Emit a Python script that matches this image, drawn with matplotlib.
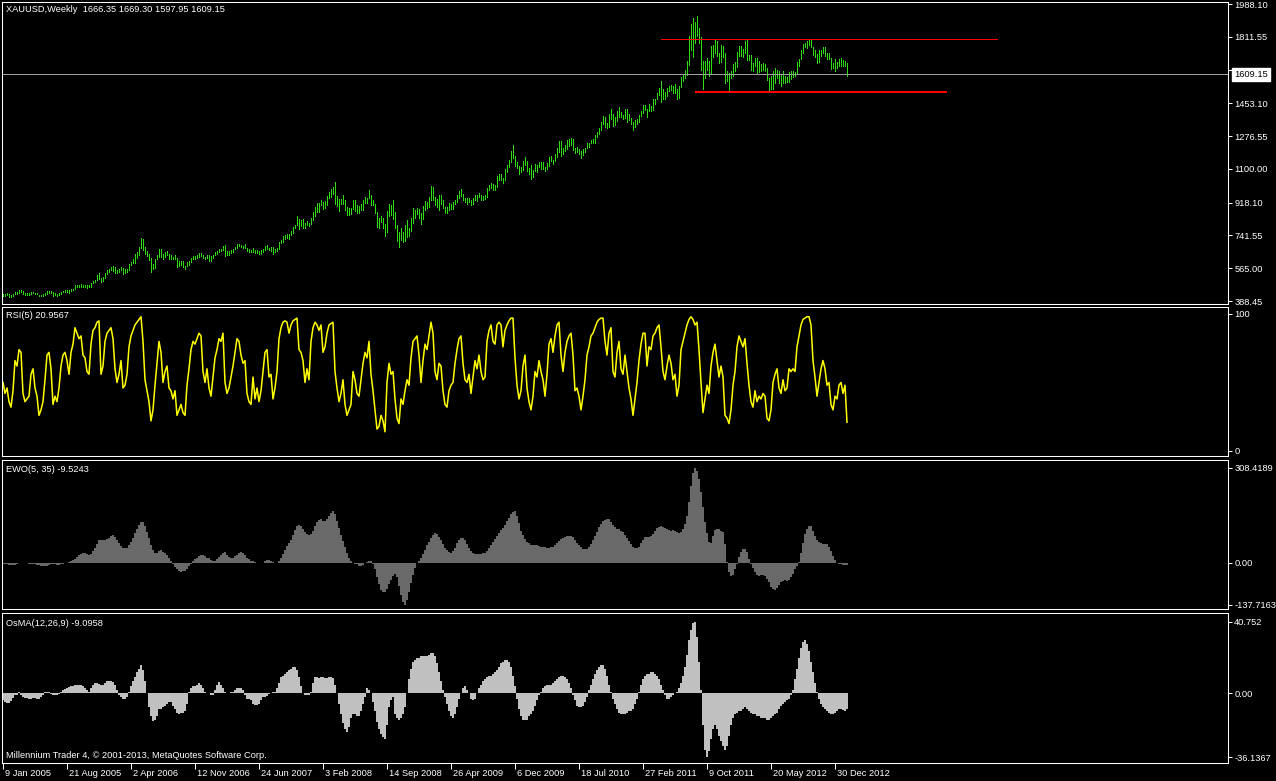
import numpy as np
import matplotlib
matplotlib.use("Agg")
import matplotlib.pyplot as plt
from matplotlib import transforms

plt.rcParams['font.family'] = ['Liberation Sans', 'DejaVu Sans']

# ---------------- data (weekly XAUUSD, 9 Jan 2005 .. 10 Feb 2013) ----------------
high = [
 428,428,430,428,423,428,438,437,446,447, 443,431,432,432,437,438,434,430,423,423,
 428,430,442,443,440,435,430,428,430,439, 444,447,446,447,451,455,472,472,476,479,
 474,476,474,473,488,496,500,526,541,513, 520,
 540,556,562,571,575,572,558,559,569,
 566,560,562,590,600,613,640,650,680,730, 725,680,660,643,618,590,616,634,671,669,
 642,650,656,643,637,628,637,619,605,606, 603,578,596,604,622,630,630,635,648,649,
 634,626,637,638,
 632,637,652,656,671,671,
 686,690,656,658,662,670,680,694,694,691, 684,693,676,670,665,675,661,665,658,662,
 668,685,692,676,680,677,667,676,704,718, 738,745,748,750,765,786,800,845,830,827,
 828,808,818,810,836,866,
 897,915,918,932,
 920,925,952,977,993,1002,1032,953,940,936, 958,930,893,891,892,935,930,908,900,912,
 935,947,945,988,962,930,913,868,836,845, 836,802,875,912,905,935,870,800,760,780,
 762,800,826,783,838,889,878,890,
 882,860,
 900,927,922,950,1007,1000,947,940,960,961, 935,897,896,915,912,920,934,960,980,990,
 967,945,945,945,930,942,958,958,970,960, 953,958,997,1011,1025,1020,1012,1062,1071,1070,
 1052,1101,1119,1147,1195,1227,1168,1138,1118,1112,
 1140,1162,1145,1105,1123,1096,1125,1122,1139,1139, 1135,1111,1130,1165,1170,1147,1180,1212,1250,1249,
 1215,1231,1254,1262,1265,1262,1213,1217,1206,1199, 1209,1213,1238,1240,1256,1260,1280,1301,1320,1350,
 1387,1379,1346,1398,1425,1397,1380,1410,1432,1406, 1392,1425,
 1425,1393,1375,1350,1364,1371,1392,1414,
 1445,1445,1424,1447,1441,1475,1476,1510,1537,1575, 1530,1512,1537,1549,1550,1545,1558,1530,1545,1595,
 1610,1632,1682,1815,1880,1912,1890,1923,1860,1810, 1680,1680,1695,1680,1760,1765,1802,1790,1725,1765,
 1764,1722,1625,1615,
 1625,1665,1675,1730,1764,1763,
 1745,1790,1792,1716,1715,1671,1697,1695,1680,1665, 1668,1667,1645,1590,1600,1629,1641,1633,1629,1604,
 1626,1601,1596,1624,1628,1627,1623,1675,1692,1740, 1775,1777,1787,1796,1793,1755,1740,1718,1738,1738,
 1754,1755,1724,1723,1697,1668,1694,
 1677,1694,1696,1685,1683,1669.30]
low = [
 418,418,419,411,411,415,425,428,430,439, 424,423,423,423,428,431,425,424,414,414,
 414,421,428,433,432,417,421,418,421,427, 435,437,437,432,443,448,453,466,464,466,
 464,466,461,463,466,486,491,499,509,490, 497,
 511,534,544,553,551,540,541,546,556,
 535,537,547,558,581,594,594,620,635,675, 665,640,630,611,542,560,568,612,627,625,
 612,628,635,615,617,612,615,573,575,585, 570,560,576,583,600,612,614,618,627,630,
 618,612,620,604,
 605,622,635,642,650,657,
 665,630,635,638,645,655,666,676,683,677, 672,674,659,653,652,655,645,649,642,644,
 653,664,666,662,660,642,654,660,670,700, 705,725,728,722,745,755,780,800,775,790,
 784,781,796,792,805,827,
 846,870,866,905,
 885,892,904,943,949,965,912,900,873,910, 912,878,852,852,858,882,875,862,860,877,
 876,915,915,945,905,903,860,788,782,816, 782,736,761,844,852,828,781,712,681,716,
 706,714,733,741,768,807,835,855,
 835,805,
 830,880,887,893,935,931,903,895,880,910, 890,865,862,877,883,883,910,920,943,955,
 932,919,910,923,906,912,935,926,948,935, 930,938,948,987,998,986,988,1000,1040,1040,
 1026,1041,1083,1110,1135,1160,1118,1105,1075,1085,
 1093,1120,1090,1074,1045,1058,1090,1085,1112,1098, 1100,1087,1100,1118,1143,1125,1140,1165,1193,1167,
 1180,1198,1206,1223,1227,1202,1188,1189,1178,1157, 1175,1190,1211,1217,1239,1241,1240,1270,1290,1310,
 1340,1325,1318,1326,1368,1330,1336,1356,1378,1379, 1370,1375,
 1355,1362,1340,1308,1328,1344,1354,1384,
 1403,1418,1380,1413,1411,1418,1452,1476,1498,1462, 1478,1478,1490,1520,1527,1510,1507,1478,1482,1540,
 1576,1590,1608,1660,1740,1702,1780,1815,1780,1630, 1533,1590,1630,1603,1618,1700,1722,1710,1668,1676,
 1704,1565,1575,1523,
 1590,1600,1626,1650,1706,1710,
 1705,1725,1688,1685,1635,1627,1652,1612,1624,1625, 1635,1629,1578,1527,1533,1532,1565,1589,1562,1548,
 1564,1562,1566,1566,1584,1596,1598,1612,1654,1690, 1725,1755,1750,1766,1759,1715,1701,1672,1675,1707,
 1722,1706,1691,1692,1636,1642,1625,
 1643,1655,1655,1652,1656,1597.95]

rsi = [
 50,42,46,36,32,44,66,62,74,72, 42,36,38,40,56,60,46,40,26,30,
 36,52,70,72,60,34,40,36,46,62, 70,72,66,56,72,78,90,86,82,84,
 70,68,58,56,78,88,90,94,95,56, 62,80,86,88,90,82,60,50,56,66,
 46,48,56,76,84,88,92,94,96,98, 80,52,44,36,22,30,48,64,80,72,
 50,58,62,46,44,38,44,26,30,34, 28,26,48,60,74,80,78,82,86,84,
 58,50,60,46,40,54,68,74,82,80, 86,50,42,46,54,62,72,82,80,70,
 64,66,42,36,34,54,38,46,36,44, 58,72,74,54,56,38,46,58,82,90,
 94,95,94,86,92,95,96,97,74,72, 66,50,60,52,80,90,94,92,88,92,
 72,76,86,92,93,94,58,46,36,42, 52,34,26,30,34,58,52,42,40,52,
 64,72,68,80,56,44,30,16,18,26, 22,14,50,64,56,58,38,24,20,38,
 34,44,52,48,68,80,82,84,70,50, 66,78,74,84,94,86,58,52,64,62,
 44,34,32,44,48,50,64,74,82,84, 64,52,50,56,42,54,66,60,70,58,
 52,54,80,88,92,80,78,92,94,92, 76,88,92,95,97,97,68,48,38,44,
 62,70,46,36,30,40,58,54,66,58, 52,40,56,78,82,72,84,92,94,70,
 58,72,80,84,86,70,44,46,40,30, 40,52,70,76,84,86,90,94,96,97,
 97,80,70,86,90,58,54,72,80,60, 56,70,58,46,38,26,38,50,66,78,
 86,86,62,76,74,84,86,90,92,76, 58,52,62,70,64,52,56,40,48,74,
 80,86,92,96,98,96,92,94,74,50, 28,38,48,42,62,72,78,66,54,62,
 54,26,24,20,30,48,58,76,84,80, 76,82,64,48,36,32,44,36,40,38,
 42,40,24,22,30,50,56,60,46,42, 52,44,46,60,58,60,58,76,84,92,
 96,97,98,98,92,66,54,40,50,60, 66,60,48,50,34,30,40,38,48,50,
 42,48,20.9567]

ewo = [
 -4,-5,-6,-7,-8,-8,-7,-5,-3,-1, 0,-1,-3,-4,-4,-4,-5,-7,-9,-11,
 -12,-12,-10,-8,-6,-5,-6,-7,-7,-6, -4,-2,0,2,4,7,12,18,24,28,
 30,30,28,26,28,36,46,60,72,74, 72,72,75,80,86,88,84,74,62,54,
 48,46,48,56,66,80,96,108,122,132, 131,118,100,80,58,40,32,30,36,40,
 34,30,24,14,4,-6,-14,-22,-28,-30, -28,-26,-20,-12,-4,4,10,16,22,26,
 24,20,16,14,8,4,6,10,18,24, 30,34,26,18,14,16,20,26,32,34,
 30,24,16,10,6,4,2,0,-2,-2, 0,4,8,8,6,2,-2,-2,4,14,
 28,42,54,62,74,88,106,118,122,118, 110,100,92,88,92,104,118,130,138,142,
 136,134,140,150,160,166,158,136,112,90, 70,50,30,16,6,-2,-4,-4,-10,-12,
 -8,-2,2,6,4,-6,-22,-48,
 -70,-90,-96,-95,-86,-70,-55,-44,-38,-48, -75,-105,-128,-137.7163,-122,-95,-66,-40,-18,0,
 6,16,28,42,56,68,80,90,95,94,
 84,72,60,48,40,34,32,36,48,62,74,80,
 80,72,60,46,36,30,28,28,28,29, 30,32,38,46,56,66,76,86,96,106,
 112,122,134,146,156,164,166,150,128,104, 88,76,68,62,58,56,57,56,54,52,
 50,49,48,48,49,52,58,64,70,76, 80,83,85,86,86,82,74,64,56,50,
 45,43,44,50,60,72,86,100,114,126, 134,138,140,140,132,122,115,110,108,104,
 98,90,80,70,60,52,48,48,52,62, 74,82,84,84,86,94,104,112,116,118,
 116,112,108,105,104,105,102,98,95,100, 110,126,150,195,250,292,308.4189,296,270,230,
 180,130,95,68,65,85,105,110,108,104, 100,60,2,-30,-45,-40,-22,-4,18,35,
 44,45,34,12,-4,-18,-32,-40,-42,-40, -40,-44,-52,-64,-78,-86,-88,-82,-72,-64,
 -60,-58,-60,-58,-48,-36,-22,-10,2,30, 62,92,110,118,118,104,86,72,66,62,
 60,60,60,50,36,20,8,0,-4,-6, -8,-9,-9.5243]

osma = [
 -4,-5,-5.5,-5.5,-4.5,-2.5,-1,-1,1,-1, -2,-2.5,-2.5,-3,-3,-2.5,-2.5,-3,-3,-2,
 -1,1,1,0.5,-0.5,-1,-1,-1,-0.5,0.5, 2,2.5,3,3.5,4,4,4.5,5,5,4.5,
 4,3,2,1,3,5,6,6,5.5,5, 5,6,7,7,7,6.5,5,2,-1,-2,
 -3,-3,-2,1,4,7,9,12,14,16, 13,7,0,-8,-13,-15.5,-15,-13,-9,-9,
 -8,-7,-6,-5,-5,-7,-9,-11,-12,-11, -11,-10,-6,1,3,4,4,5,6,5,
 3,1,0,0,-1,-1,2,5,6.5,5, 3,1,0,0,0.5,1,2,3,3,3,
 2,-1,-3,-3,-4,-6,-6.5,-6.5,-6,-4, -2,-2,-1.5,-0.5,0,0.5,1,3,6,9,
 10,11,12,13,14,15,15,13,9,4, 0,-1,-1,-1,0.5,6,9,9,8.5,9,
 9,8.5,8.5,9,9,8.5,5,0,-6,-12, -17,-20,-22,-19,-14,-12,-12,-13,-13,-10,
 -6,-2,3,2,0,-5,-10,-16,-20,-23, -25,-26,-18,-8,-4,-2,-12,-14,-15,-14,
 -12,-8,0,8,14,18,19,20,20,21, 21,21,21,22,23,23,21,17,12,7,
 2,-2,-6,-10,-13,-14,-12,-8,-3,0, 3,4,2,0,-3,-4,-3,0,3,5,
 7,8,9,10,10,11,12,13,15,17, 18,19,19,18,15,10,4,-3,-9,-13,
 -15,-15,-15,-13,-12,-10,-7,-4,-1,1, 3,4,5,5,5,6,7,8,9,10,
 10,9,8,6,3,-1,-4,-7,-8,-8, -7,-5,-2,2,5,8,11,13,15,16,
 16,14,10,5,1,-3,-6,-9,-11,-12, -12,-12,-11,-10,-10,-9,-6,-3,1,5,
 8,10,11,11,12,12,11,10,8,5, 2,-1,-3,-3,-2,-1,0,1,3,6,
 10,15,22,30,36,40,40.752,32,18,2, -18,-32,-36.1367,-33,-26,-20,-18,-20,-24,-27,
 -30,-32,-30,-24,-18,-14,-12,-11,-10,-10, -9,-8,-9,-10,-11,-12,-12,-13,-13,-14,
 -14,-14,-15,-15,-14,-13,-12,-11,-9,-7, -6,-5,-4,-3,-1,2,8,14,20,26,
 29,30,28,24,18,12,6,1,-3,-6, -8,-9,-10,-11,-12,-12,-11,-10,-9,-9,
 -9.5,-10,-9.0958]

# trend lines drawn on the chart: (first bar, last bar, price)
trend_upper = (329, 497, 1798.0)
trend_lower = (346, 472, 1514.0)
last_close = 1609.15

price_ticks = [1988.10, 1811.55, 1630.15, 1453.10, 1276.55, 1100.00, 918.10, 741.55, 565.00, 388.45]
price_tick_labels = ['1988.10', '1811.55', '1630.15', '1453.10', '1276.55', '1100.00',
                     '918.10', '741.55', '565.00', '388.45']
rsi_ticks = [100, 0]
ewo_ticks = [308.4189, 0.0, -137.7163]
ewo_tick_labels = ['308.4189', '0.00', '-137.7163']
osma_ticks = [40.752, 0.0, -36.1367]
osma_tick_labels = ['40.752', '0.00', '-36.1367']
date_bars = [0, 32, 64, 96, 128, 160, 192, 224, 256, 288, 320, 352, 384, 416]
date_labels = ['9 Jan 2005', '21 Aug 2005', '2 Apr 2006', '12 Nov 2006', '24 Jun 2007',
               '3 Feb 2008', '14 Sep 2008', '26 Apr 2009', '6 Dec 2009', '18 Jul 2010',
               '27 Feb 2011', '9 Oct 2011', '20 May 2012', '30 Dec 2012']

# ---------------- drawing ----------------
W, H = 1276, 781
BG, FG = 'black', 'white'
BAR = '#2fdc14'
FS = 6.7

fig = plt.figure(figsize=(W / 100, H / 100), dpi=100, facecolor=BG)


def make_ax(top, bottom):
    ax = fig.add_axes([2 / W, 1 - bottom / H, 1226 / W, (bottom - top) / H])
    ax.set_facecolor(BG)
    for s in ax.spines.values():
        s.set_color(FG)
        s.set_linewidth(0.75)
    ax.set_xlim(-0.5, 612.5)
    ax.yaxis.tick_right()
    ax.tick_params(axis='y', direction='out', length=3, width=0.75, colors=FG,
                   labelsize=FS, pad=1.5)
    ax.tick_params(axis='x', bottom=False, labelbottom=False)
    return ax


# main price window
ax0 = make_ax(2, 304)
ax0.set_ylim(372.3, 1998.9)
bars = np.arange(len(high))
ax0.vlines(bars, low, high, colors=BAR, linewidth=0.5, antialiased=False)
ax0.hlines(trend_upper[2], trend_upper[0], trend_upper[1], colors='#ff0000',
           linewidth=0.72, antialiased=False)
ax0.hlines(trend_lower[2], trend_lower[0], trend_lower[1], colors='#ff0000',
           linewidth=1.44, antialiased=False)
ax0.axhline(last_close, color='#a0a0a0', linewidth=0.72, antialiased=False)
ax0.set_yticks(price_ticks)
ax0.set_yticklabels(price_tick_labels)
ax0.annotate(f'{last_close:.2f}', xy=(1.0, last_close), xycoords=('axes fraction', 'data'),
             xytext=(6, 0), textcoords='offset pixels', ha='left', va='center',
             fontsize=FS, color='black', annotation_clip=False, zorder=20,
             bbox=dict(boxstyle='square,pad=0.25', fc='white', ec='white'))

# RSI window
ax1 = make_ax(307, 456)
ax1.set_ylim(-3.65, 105.1)
ax1.plot(np.arange(len(rsi)), rsi, color='#ffff00', linewidth=1.1)
ax1.set_yticks(rsi_ticks)
ax1.set_yticklabels(['100', '0'])

# EWO window
ax2 = make_ax(460, 609)
ax2.set_ylim(-150.7, 332.8)
ax2.bar(np.arange(len(ewo)), ewo, width=1.0, color='#696969', linewidth=0)
ax2.set_yticks(ewo_ticks)
ax2.set_yticklabels(ewo_tick_labels)

# OsMA window
ax3 = make_ax(613, 763)
ax3.set_ylim(-39.54, 45.58)
ax3.bar(np.arange(len(osma)), osma, width=1.0, color='#c0c0c0', linewidth=0)
ax3.set_yticks(osma_ticks)
ax3.set_yticklabels(osma_tick_labels)
ax3.set_xticks(date_bars)
ax3.set_xticklabels(date_labels)
ax3.tick_params(axis='x', bottom=True, labelbottom=True, direction='out', length=4,
                width=0.75, colors=FG, labelsize=FS, pad=0)
shift = transforms.ScaledTranslation(2 / 100, 0, fig.dpi_scale_trans)
for lab in ax3.get_xticklabels():
    lab.set_horizontalalignment('left')
    lab.set_transform(lab.get_transform() + shift)


def ftext(x, y, s, **kw):
    fig.text(x / W, 1 - y / H, s, color=FG, fontsize=FS, va='center', ha='left', **kw)


ftext(6, 10, 'XAUUSD,Weekly  1666.35 1669.30 1597.95 1609.15')
ftext(6, 316, 'RSI(5) 20.9567')
ftext(6, 470, 'EWO(5, 35) -9.5243')
ftext(6, 624, 'OsMA(12,26,9) -9.0958')
ftext(6, 755, 'Millennium Trader 4, \u00a9 2001-2013, MetaQuotes Software Corp.')

fig.savefig('out.png', dpi=100, facecolor=BG)
